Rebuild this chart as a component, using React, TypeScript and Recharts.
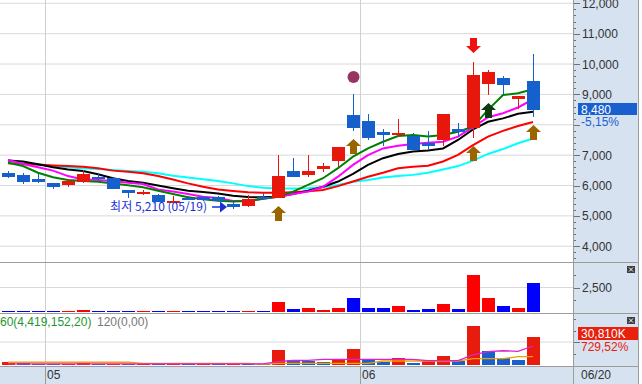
import React from 'react';
import {
  ComposedChart, Bar, Line, XAxis, YAxis, CartesianGrid, ReferenceLine, ReferenceDot,
} from 'recharts';

// ---------------- DATA ----------------
const dates = [
  '04/27', '04/28', '04/29', '05/02', '05/03', '05/04', '05/06', '05/09', '05/10', '05/11',
  '05/12', '05/13', '05/16', '05/17', '05/18', '05/19', '05/20', '05/23', '05/24', '05/25',
  '05/26', '05/27', '05/30', '05/31', '06/02', '06/03', '06/07', '06/08', '06/09', '06/10',
  '06/13', '06/14', '06/15', '06/16', '06/17', '06/20',
];
const opens = [6410, 6360, 6210, 6080, 6020, 6120, 6280, 6260, 5850, 5730, 5690, 5440, 5600, 5630, 5630, 5390, 5340, 5630, 5600, 6480, 6350, 6560, 6820, 8320, 8120, 7760, 7660, 7630, 7400, 7500, 7860, 7900, 9350, 9540, 8850, 9440];
const highs = [6480, 6400, 6370, 6090, 6200, 6500, 6420, 6270, 5860, 5850, 5720, 5650, 5650, 5660, 5650, 5460, 5690, 5740, 7000, 6910, 7000, 6740, 7280, 9010, 8360, 7860, 8190, 7740, 7800, 8360, 8070, 10070, 9800, 9610, 8950, 10330];
const lows = [6250, 6060, 6090, 5890, 5960, 6070, 6180, 5890, 5580, 5690, 5460, 5430, 5520, 5500, 5480, 5210, 5300, 5520, 5590, 6280, 6290, 6460, 6620, 7800, 7500, 7310, 7610, 7170, 7170, 7310, 7610, 7550, 8980, 9010, 8520, 8270];
const closes = [6280, 6130, 6120, 5960, 6140, 6380, 6210, 5900, 5760, 5800, 5470, 5490, 5560, 5520, 5490, 5300, 5560, 5550, 6320, 6290, 6480, 6650, 7270, 7900, 7580, 7670, 7740, 7180, 7310, 8350, 7750, 9640, 9740, 9320, 8940, 8480];

const ma5 = [6750, 6640, 6420, 6270, 6180, 6150, 6120, 6070, 6010, 5940, 5830, 5720, 5610, 5550, 5500, 5470, 5490, 5560, 5630, 5800, 6020, 6240, 6570, 6950, 7220, 7440, 7630, 7660, 7610, 7660, 7770, 7940, 8490, 8980, 9040, 9170];
const ma10 = [6840, 6710, 6600, 6490, 6310, 6200, 6180, 6150, 6090, 6050, 5870, 5800, 5720, 5630, 5590, 5490, 5500, 5560, 5630, 5720, 5800, 5960, 6290, 6680, 7000, 7220, 7310, 7370, 7410, 7440, 7610, 7920, 8250, 8380, 8570, 8840];
const ma20 = [6820, 6790, 6700, 6600, 6530, 6480, 6370, 6240, 6150, 6090, 6000, 5910, 5830, 5790, 5740, 5660, 5620, 5610, 5630, 5720, 5830, 5960, 6130, 6380, 6680, 6900, 7040, 7120, 7150, 7220, 7500, 7850, 8100, 8210, 8360, 8430];
const ma60 = [6730, 6710, 6690, 6660, 6640, 6620, 6570, 6490, 6450, 6400, 6310, 6200, 6070, 5960, 5870, 5820, 5780, 5760, 5760, 5780, 5810, 5850, 5980, 6130, 6290, 6420, 6570, 6620, 6650, 6790, 7010, 7330, 7610, 7800, 7960, 8090];
const ma120 = [6840, 6730, 6680, 6640, 6600, 6570, 6540, 6510, 6480, 6450, 6400, 6320, 6260, 6210, 6150, 6070, 5980, 5930, 5900, 5900, 5910, 5940, 6020, 6120, 6180, 6260, 6310, 6350, 6420, 6530, 6640, 6820, 7040, 7200, 7390, 7550];

const volumes = [100, 100, 100, 100, 100, 200, 100, 100, 100, 100, 100, 100, 100, 100, 100, 100, 100, 100, 1020, 340, 440, 240, 440, 1460, 440, 440, 640, 240, 340, 820, 340, 3770, 1460, 640, 440, 2960];

const tradeValues = [3600, 1700, 1500, 1200, 1400, 3600, 1300, 1500, 1200, 1300, 1100, 1200, 1000, 1100, 900, 1200, 1000, 700, 16300, 5400, 4300, 3600, 6200, 17400, 5400, 3600, 7900, 2500, 4300, 10100, 4300, 42400, 15200, 7300, 5400, 30810];
const tradeAvgShort = [1300, 1300, 1300, 1300, 1300, 1300, 1300, 1300, 1300, 1300, 1300, 1300, 1300, 1300, 1300, 1300, 1300, 1300, 3600, 4900, 5100, 6200, 6200, 6200, 6200, 6200, 6200, 6200, 4700, 4700, 4700, 10900, 14500, 15500, 14900, 20650];
const tradeAvgLong = [3000, 3000, 3000, 3000, 3000, 3000, 3000, 3000, 3000, 1850, 1850, 1850, 1850, 1850, 1850, 1850, 1850, 760, 1850, 1850, 1850, 1850, 1850, 1850, 1850, 4350, 4350, 4350, 4350, 4350, 4350, 6850, 6850, 6850, 9000, 9000];
const tradeChangePct = 729.52;

const buySignals = [18, 23, 31, 35];
const sellSignals = [31];
const strongBuySignals = [32];
const alertSignals = [23];
const lowestIdx = 15;

const majorPriceTicks = [4000, 5000, 6000, 7000, 8000, 9000, 10000, 11000, 12000];
const volumeTicks = [1250, 2500, 3750];
const volumeLabelTicks = [2500];
const tradeTicks = [12500, 25000, 37500, 50000];
const tradeGridTicks = [25000];
const indicatorTitleA = '60(4,419,152,20)';
const indicatorTitleB = '120(0,00)';

// ---------------- STYLE ----------------
const FONT = "'Liberation Sans', Arial, sans-serif";
const KFONT = "'Noto Sans CJK KR', 'Liberation Sans', sans-serif";
const RED = '#e8170c';
const BLUE = '#1660cc';
const AXIS_BG = '#d6e2f0';
const GRID = '#d9d9d9';
const BORDER = '#9c9c9c';
const W = 642;
const XPAD = { left: 0.5, right: 32.5 };

const rows = dates.map((date, i) => ({
  date,
  open: opens[i], high: highs[i], low: lows[i], close: closes[i],
  ma5: ma5[i], ma10: ma10[i], ma20: ma20[i], ma60: ma60[i], ma120: ma120[i],
  volume: volumes[i],
  trade: tradeValues[i],
  tradeUp: i === 0 || tradeValues[i] >= tradeValues[i - 1],
  tradeAvgShort: tradeAvgShort[i],
  tradeAvgLong: tradeAvgLong[i],
  buy: buySignals.includes(i),
  sell: sellSignals.includes(i),
  strongBuy: strongBuySignals.includes(i),
  alert: alertSignals.includes(i),
}));

const monthStarts = dates.filter((d, i) => i > 0 && d.slice(0, 2) !== dates[i - 1].slice(0, 2));
const priceAxisTicks: number[] = [];
for (let v = 3600; v <= 12000; v += 200) priceAxisTicks.push(v);

const last = dates.length - 1;
const lastClose = closes[last];
const changePct = ((closes[last] / closes[last - 1]) - 1) * 100;
const fmt = (v: number) => v.toLocaleString('en-US');
const fmtPct = (v: number) => `${v.toFixed(2).replace('.', ',')}%`;

// ---------------- SHAPES ----------------
const upArrow = (cx: number, tip: number, color: string) => (
  <path
    d={`M${cx},${tip} L${cx + 7.5},${tip + 7} L${cx + 3.5},${tip + 7} L${cx + 3.5},${tip + 15} L${cx - 3.5},${tip + 15} L${cx - 3.5},${tip + 7} L${cx - 7.5},${tip + 7} Z`}
    fill={color}
  />
);
const downArrow = (cx: number, tip: number, color: string) => (
  <path
    d={`M${cx},${tip} L${cx + 7.5},${tip - 7} L${cx + 3.5},${tip - 7} L${cx + 3.5},${tip - 15} L${cx - 3.5},${tip - 15} L${cx - 3.5},${tip - 7} L${cx - 7.5},${tip - 7} Z`}
    fill={color}
  />
);

const CandleShape = (props: any) => {
  const { x, y, width, height, payload } = props;
  if (!payload || x == null) return <g />;
  const top = Math.min(y, y + height);
  const bot = Math.max(y, y + height);
  const k = (bot - top) / (payload.high - payload.low);
  const py = (p: number) => top + (payload.high - p) * k;
  const up = payload.close >= payload.open;
  const color = up ? RED : BLUE;
  const bx = Math.round(x);
  const bw = Math.round(width);
  const cx = Math.floor(x + width / 2);
  const yo = py(payload.open);
  const yc = py(payload.close);
  const bTop = Math.round(Math.min(yo, yc));
  const bBot = Math.max(bTop + 2, Math.round(Math.max(yo, yc)));
  const hY = Math.round(py(payload.high));
  const lY = Math.round(py(payload.low));
  const ax = cx + 0.5;
  return (
    <g>
      <rect x={cx} y={hY} width={1} height={Math.max(1, lY - hY)} fill={color} />
      <rect x={bx} y={bTop} width={bw} height={bBot - bTop} fill={color} />
      {payload.buy && upArrow(ax, lY + 8, '#9a6400')}
      {payload.strongBuy && upArrow(ax, lY + 8, '#0e3a12')}
      {payload.sell && downArrow(ax, hY - 9, '#f01010')}
      {payload.alert && <circle cx={ax} cy={hY - 17} r={6} fill="#983462" />}
    </g>
  );
};

const makeBarShape = (colorFn: (p: any) => string) => (props: any) => {
  const { x, y, width, height, payload } = props;
  if (x == null || !payload) return <g />;
  const t = Math.round(Math.min(y, y + height));
  const b = Math.round(Math.max(y, y + height));
  return <rect x={Math.round(x)} y={Math.min(t, b - 1)} width={Math.round(width)} height={Math.max(1, b - t)} fill={colorFn(payload)} />;
};
const VolumeShape = makeBarShape((p) => (p.close >= p.open ? '#ff0000' : '#0000ff'));
const TradeShape = makeBarShape((p) => (p.tradeUp ? '#e81c0c' : '#1a60cc'));

const VLine = (props: any) => {
  const xx = Math.floor(props.x1) + 0.5;
  return <line x1={xx} x2={xx} y1={props.y1} y2={props.y2} stroke="#cfcfcf" strokeWidth={1} />;
};

const makeAxisTick = (labelSet: ((v: number) => boolean), majorSet: ((v: number) => boolean)) => (props: any) => {
  const { x, y, payload } = props;
  const v = payload.value;
  const major = majorSet(v);
  const yy = Math.round(y) + 0.5;
  return (
    <g>
      <line x1={x} x2={x + (major ? 7 : 3)} y1={yy} y2={yy} stroke="#707070" strokeWidth={1} />
      {labelSet(v) && (
        <text x={x + 9} y={y + 4.5} fontSize={12} fill="#333" fontFamily={FONT}>{fmt(v)}</text>
      )}
    </g>
  );
};
// price labels hidden where the last-price box and change text sit
const priceLabelVisible = (v: number) => v % 1000 === 0 && !(v < lastClose && lastClose - v < 800);
const PriceTick = makeAxisTick(priceLabelVisible, (v) => v % 1000 === 0);
const VolumeTick = makeAxisTick((v) => volumeLabelTicks.includes(v), (v) => volumeLabelTicks.includes(v));
const TradeTick = makeAxisTick(() => false, (v) => tradeGridTicks.includes(v));

const DateTick = (props: any) => {
  const { x, y, payload } = props;
  const lx = Math.floor(x - 7.5) + 0.5;
  return (
    <g>
      <line x1={lx} x2={lx} y1={y + 1} y2={y + 19} stroke="#9a9a9a" />
      <text x={x - 6} y={y + 13.5} fontSize={12} fill="#333" fontFamily={FONT}>{String(payload.value).slice(0, 2)}</text>
    </g>
  );
};

const LowestMark = (props: any) => {
  const { cx, cy } = props;
  if (cx == null) return <g />;
  const c = '#1a2fd6';
  const ay = cy - 2.5;
  return (
    <g>
      <text x={cx - 26} y={cy + 2} textAnchor="end" fontSize={12} fill={c} fontFamily={KFONT}>
        {`최저 ${fmt(lows[lowestIdx])} (${dates[lowestIdx]})`}
      </text>
      <line x1={cx - 21} x2={cx - 13} y1={ay} y2={ay} stroke={c} strokeWidth={1.5} />
      <path d={`M${cx - 13},${ay - 5.5} L${cx - 6},${ay} L${cx - 13},${ay + 5.5} Z`} fill={c} />
    </g>
  );
};

const LastPriceLabel = (props: any) => {
  const vb = props.viewBox || {};
  const right = (vb.x || 0) + (vb.width || 0);
  const top = Math.round((vb.y || 0) - 7);
  return (
    <g>
      <rect x={right + 5} y={top} width={59} height={12} fill="#1a5fd0" />
      <text x={right + 8} y={top + 10.5} fontSize={12} fill="#fff" fontFamily={FONT}>{fmt(lastClose)}</text>
      <text x={right + 8} y={top + 23} fontSize={12} fill="#1a5fd0" fontFamily={FONT}>{fmtPct(changePct)}</text>
    </g>
  );
};

const TradeLabel = (props: any) => {
  const vb = props.viewBox || {};
  const right = (vb.x || 0) + (vb.width || 0);
  const top = Math.round((vb.y || 0) - 9.5);
  return (
    <g>
      <rect x={right + 5} y={top} width={60} height={13} fill="#e8200c" />
      <text x={right + 8} y={top + 11} fontSize={12} fill="#fff" fontFamily={FONT}>{`${fmt(tradeValues[last])}K`}</text>
      <text x={right + 8} y={top + 24} fontSize={12} fill="#e8200c" fontFamily={FONT}>{fmtPct(tradeChangePct)}</text>
    </g>
  );
};

const monthLines = (prefix: string) =>
  monthStarts.map((d) => (
    <ReferenceLine key={`${prefix}-${d}`} x={d} position="start" stroke="#cfcfcf" shape={VLine} />
  ));

const CloseIcon = ({ x, y }: { x: number; y: number }) => (
  <g>
    <rect x={x} y={y} width={8} height={7} fill="#3e3e3e" />
    <path d={`M${x + 2},${y + 1.5} L${x + 6},${y + 5.5} M${x + 6},${y + 1.5} L${x + 2},${y + 5.5}`} stroke="#fff" strokeWidth={1} />
  </g>
);

export default function App() {
  return (
    <div style={{ position: 'absolute', left: 0, top: 0, width: W, height: 384, background: '#fff', overflow: 'hidden' }}>
      <div style={{ position: 'absolute', left: 574, top: 0, width: 64, height: 384, background: AXIS_BG }} />
      <div style={{ position: 'absolute', left: 0, top: 367, width: 638, height: 17, background: AXIS_BG }} />

      <div style={{ position: 'absolute', left: 0, top: 0 }}>
        <ComposedChart width={W} height={262} data={rows} margin={{ top: 0, right: 0, bottom: 0, left: 0 }}>
          <CartesianGrid vertical={false} horizontalValues={majorPriceTicks} stroke={GRID} />
          <XAxis dataKey="date" hide padding={XPAD} />
          <YAxis
            orientation="right" width={69} domain={[3481, 12109]} allowDataOverflow type="number"
            ticks={priceAxisTicks} interval={0} tick={PriceTick} tickLine={false} axisLine={false}
            tickSize={0} tickMargin={0}
          />
          {monthLines('m')}
          <Line type="linear" dataKey="ma120" stroke="#00ffff" strokeWidth={2} dot={false} activeDot={false} isAnimationActive={false} />
          <Line type="linear" dataKey="ma60" stroke="#ff0000" strokeWidth={2} dot={false} activeDot={false} isAnimationActive={false} />
          <Line type="linear" dataKey="ma20" stroke="#000000" strokeWidth={2} dot={false} activeDot={false} isAnimationActive={false} />
          <Line type="linear" dataKey="ma10" stroke="#ff00ff" strokeWidth={2} dot={false} activeDot={false} isAnimationActive={false} />
          <Line type="linear" dataKey="ma5" stroke="#008000" strokeWidth={2} dot={false} activeDot={false} isAnimationActive={false} />
          <Bar dataKey={(d: any) => [d.low, d.high]} barSize={13} shape={CandleShape} isAnimationActive={false} zIndex={450} />
          <ReferenceDot x={dates[lowestIdx]} y={lows[lowestIdx]} r={0} shape={LowestMark} ifOverflow="visible" />
          <ReferenceLine y={lastClose} stroke="none" label={LastPriceLabel} ifOverflow="visible" />
        </ComposedChart>
      </div>

      <div style={{ position: 'absolute', left: 0, top: 263 }}>
        <ComposedChart width={W} height={50} data={rows} margin={{ top: 0, right: 0, bottom: 1, left: 0 }}>
          <CartesianGrid vertical={false} horizontalValues={volumeLabelTicks} stroke={GRID} />
          <XAxis dataKey="date" hide padding={XPAD} />
          <YAxis
            orientation="right" width={69} domain={[0, 5000]} allowDataOverflow type="number"
            ticks={volumeTicks} interval={0} tick={VolumeTick} tickLine={false} axisLine={false}
            tickSize={0} tickMargin={0}
          />
          {monthLines('v')}
          <Bar dataKey="volume" barSize={13} shape={VolumeShape} isAnimationActive={false} />
        </ComposedChart>
      </div>

      <div style={{ position: 'absolute', left: 0, top: 314 }}>
        <ComposedChart width={W} height={70} data={rows} margin={{ top: 0, right: 0, bottom: 0, left: 0 }}>
          <CartesianGrid vertical={false} horizontalValues={tradeGridTicks} stroke={GRID} />
          <XAxis
            dataKey="date" height={19} padding={XPAD} ticks={monthStarts} interval={0}
            tick={DateTick} tickLine={false} axisLine={false} tickSize={0} tickMargin={0}
          />
          <YAxis
            orientation="right" width={69} domain={[0, 55440]} allowDataOverflow type="number"
            ticks={tradeTicks} interval={0} tick={TradeTick} tickLine={false} axisLine={false}
            tickSize={0} tickMargin={0}
          />
          {monthLines('t')}
          <Bar dataKey="trade" barSize={13} shape={TradeShape} isAnimationActive={false} />
          <Line type="linear" dataKey="tradeAvgLong" stroke="#f0a000" strokeWidth={1.3} dot={false} activeDot={false} isAnimationActive={false} />
          <Line type="linear" dataKey="tradeAvgShort" stroke="#dd22cc" strokeWidth={1.3} dot={false} activeDot={false} isAnimationActive={false} />
          <ReferenceLine y={tradeValues[last]} stroke="none" label={TradeLabel} ifOverflow="visible" />
        </ComposedChart>
      </div>

      <svg width={W} height={384} style={{ position: 'absolute', left: 0, top: 0, pointerEvents: 'none' }}>
        <line x1={573.5} x2={573.5} y1={0} y2={384} stroke={BORDER} />
        <line x1={638.5} x2={638.5} y1={0} y2={384} stroke={BORDER} />
        <line x1={0} x2={639} y1={262.5} y2={262.5} stroke={BORDER} />
        <line x1={0} x2={639} y1={313.5} y2={313.5} stroke={BORDER} />
        <line x1={0} x2={639} y1={366.5} y2={366.5} stroke={BORDER} />
        <CloseIcon x={627} y={266} />
        <CloseIcon x={627} y={317} />
        <text x={0} y={326} fontSize={12} fill="#1e9632" fontFamily={FONT}>{indicatorTitleA}</text>
        <text x={97} y={326} fontSize={12} fill="#777" fontFamily={FONT}>{indicatorTitleB}</text>
        <text x={581} y={379} fontSize={12} fill="#333" fontFamily={FONT}>{dates[last]}</text>
      </svg>
    </div>
  );
}
